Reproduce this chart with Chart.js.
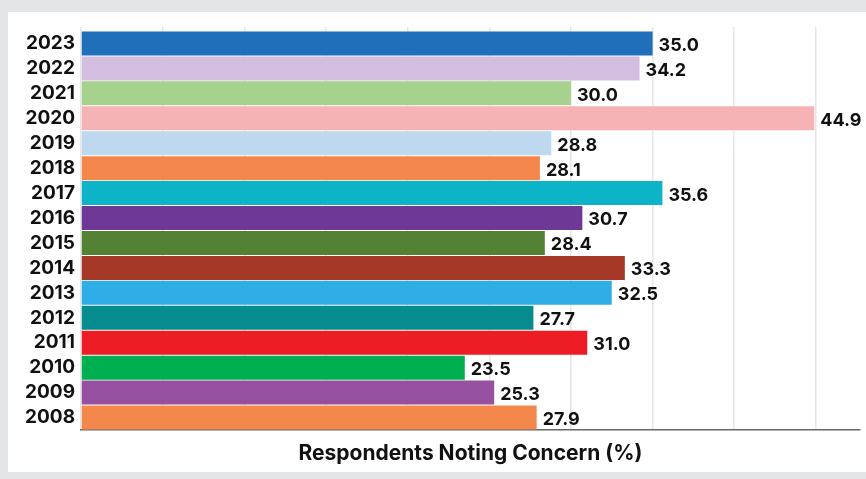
<!DOCTYPE html>
<html>
<head>
<meta charset="utf-8">
<script src="https://cdn.jsdelivr.net/npm/chart.js@4"></script>
<style>
  html, body { margin: 0; padding: 0; }
  body { width: 866px; height: 479px; background: #e4e5e7; position: relative; overflow: hidden; }
  #panel { position: absolute; left: 8px; top: 12px; width: 858px; height: 460px; background: #fff; }
  canvas { display: block; }
</style>
</head>
<body>
<div id="panel"><canvas id="chart" width="858" height="460"></canvas></div>
<script>
// Share of respondents noting concern, by survey year (newest on top).
var years = ["2023", "2022", "2021", "2020", "2019", "2018", "2017", "2016",
             "2015", "2014", "2013", "2012", "2011", "2010", "2009", "2008"];
var concern = [35.0, 34.2, 30.0, 44.9, 28.8, 28.1, 35.6, 30.7,
               28.4, 33.3, 32.5, 27.7, 31.0, 23.5, 25.3, 27.9];
var barColors = ["#1f6fba", "#d4bedf", "#a7d28d", "#f5b3b5", "#bdd8ef", "#f4884c",
                 "#0db4c8", "#6e3896", "#548235", "#a53826", "#2fade6", "#068b8f",
                 "#ec1d24", "#00b050", "#9551a0", "#f4884c"];
var xTitle = "Respondents Noting Concern (%)";

var FONT = "Inter, 'Open Sans', sans-serif";

// value labels just past the end of each bar
var valueLabels = {
  id: "valueLabels",
  afterDatasetsDraw: function (chart) {
    var ctx = chart.ctx, meta = chart.getDatasetMeta(0);
    ctx.save();
    ctx.font = "700 18px " + FONT;
    ctx.fillStyle = "#111";
    ctx.textAlign = "left";
    ctx.textBaseline = "middle";
    meta.data.forEach(function (bar, i) {
      ctx.fillText(concern[i].toFixed(1), bar.x + 6, bar.y + 2);
    });
    ctx.restore();
  }
};

var onlyFives = function (scale) {
  scale.ticks = scale.ticks.filter(function (t) { return t.value % 5 === 0; });
};

new Chart(document.getElementById("chart"), {
  type: "bar",
  data: {
    labels: years,
    datasets: [{
      data: concern,
      backgroundColor: barColors,
      borderWidth: 0,
      barPercentage: 0.96,
      categoryPercentage: 1.0
    }]
  },
  options: {
    indexAxis: "y",
    responsive: false,
    animation: false,
    layout: { padding: { top: 15, right: 6, left: 0, bottom: 0 } },
    plugins: { legend: { display: false }, tooltip: { enabled: false } },
    scales: {
      x: {
        position: "bottom",
        min: 0, max: 47.7,
        afterBuildTicks: onlyFives,
        afterFit: function (s) { s.height = 42; },
        ticks: { display: false, stepSize: 5 },
        grid: { color: "#e6e6e6", lineWidth: 1.5, drawTicks: false },
        border: { color: "#666", width: 1.5 },
        title: {
          display: true, text: xTitle, color: "#111",
          font: { family: FONT, size: 21, weight: "700" },
          padding: { top: 6, bottom: 6 }
        }
      },
      xTop: {
        axis: "x",
        position: "top",
        min: 0, max: 47.7,
        afterBuildTicks: onlyFives,
        afterFit: function (s) { s.height = 4; },
        ticks: { display: false, stepSize: 5 },
        grid: { color: "#e6e6e6", lineWidth: 1.5, drawOnChartArea: false, drawTicks: true, tickLength: 4 },
        border: { display: false }
      },
      y: {
        afterFit: function (s) { s.width = 73; },
        ticks: {
          color: "#111", padding: 6, autoSkip: false,
          font: { family: FONT, size: 19, weight: "700" }
        },
        grid: { display: false, drawTicks: false },
        border: { display: false }
      }
    }
  },
  plugins: [valueLabels]
});
</script>
</body>
</html>
